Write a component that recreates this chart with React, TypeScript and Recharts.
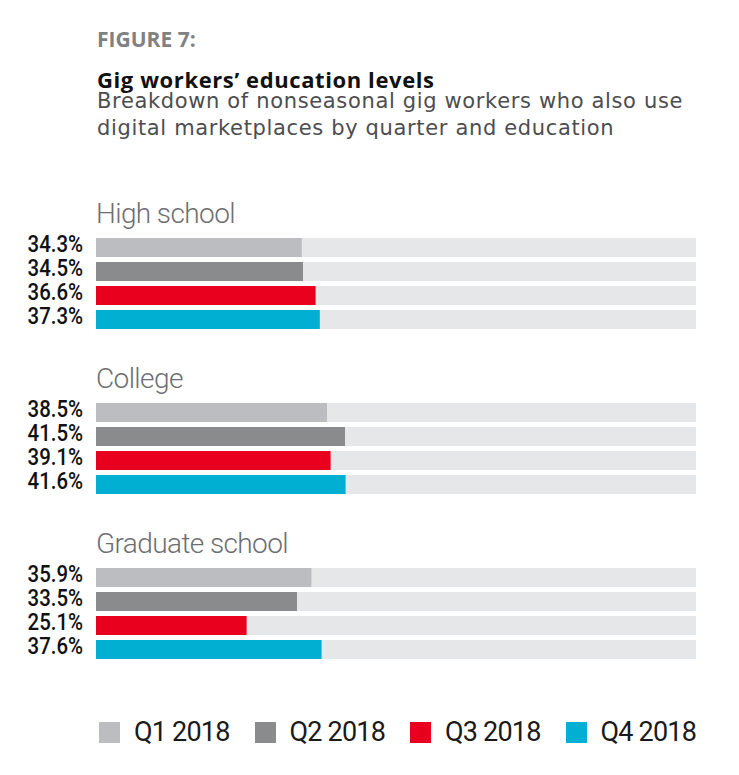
import { Bar, BarChart, Cell, LabelList, XAxis, YAxis } from 'recharts';

const educationLevels = ['High school', 'College', 'Graduate school'];
const quarters = ['Q1 2018', 'Q2 2018', 'Q3 2018', 'Q4 2018'];
const q1Values = [34.3, 38.5, 35.9];
const q2Values = [34.5, 41.5, 33.5];
const q3Values = [36.6, 39.1, 25.1];
const q4Values = [37.3, 41.6, 37.6];

const valuesByQuarter = [q1Values, q2Values, q3Values, q4Values];
const quarterColors = ['#bcbdc0', '#8a8b8d', '#e8001e', '#00afd1'];

const GROUP_TOP = 234.5;
const GROUP_STEP = 165;
const PAD = 8; // room above/below the rows so the labels are not clipped

// value label drawn to the left of the track, right-aligned and squeezed (condensed look)
function PercentLabel(props: any) {
  const { x, y, height, value } = props;
  const lx = Number(x) - 13;
  const ly = Number(y) + Number(height) / 2 + 4.5;
  return (
    <text
      transform={`translate(${lx},${ly}) scale(0.85,1)`}
      textAnchor="end"
      fill="#111111"
      fontFamily="Roboto"
      fontWeight={500}
      fontSize={24}
    >
      {`${Number(value).toFixed(1)}%`}
    </text>
  );
}

function EducationGroup({ index }: { index: number }) {
  const data = quarters.map((quarter, i) => ({
    quarter,
    value: valuesByQuarter[i][index],
  }));
  const top = GROUP_TOP + GROUP_STEP * index;

  return (
    <>
      <div
        style={{
          position: 'absolute',
          left: 96,
          top: top - 35,
          fontFamily: 'Roboto',
          fontWeight: 300,
          fontSize: 28,
          lineHeight: 1,
          letterSpacing: -0.6,
          color: '#6d6e71',
          whiteSpace: 'nowrap',
        }}
      >
        {educationLevels[index]}
      </div>
      <div style={{ position: 'absolute', left: 0, top: top - PAD }}>
        <BarChart
          width={739}
          height={96 + PAD * 2}
          data={data}
          layout="vertical"
          margin={{ top: PAD, right: 43, bottom: PAD, left: 96 }}
        >
          <XAxis type="number" domain={[0, 100]} hide />
          <YAxis type="category" dataKey="quarter" hide />
          <Bar
            dataKey="value"
            barSize={19}
            background={{ fill: '#e6e7e8' }}
            isAnimationActive={false}
          >
            {data.map((entry, i) => (
              <Cell key={entry.quarter} fill={quarterColors[i]} />
            ))}
            <LabelList dataKey="value" content={PercentLabel} />
          </Bar>
        </BarChart>
      </div>
    </>
  );
}

export default function App() {
  return (
    <div
      style={{
        position: 'absolute',
        left: 0,
        top: 0,
        width: 739,
        height: 775,
        background: '#ffffff',
        overflow: 'hidden',
      }}
    >
      <div
        style={{
          position: 'absolute',
          left: 97,
          top: 28.7,
          fontFamily: '"Open Sans"',
          fontWeight: 700,
          fontSize: 21,
          lineHeight: 1,
          color: '#808184',
        }}
      >
        FIGURE 7:
      </div>
      <div
        style={{
          position: 'absolute',
          left: 97,
          top: 68.2,
          fontFamily: '"Open Sans"',
          fontWeight: 700,
          fontSize: 22,
          lineHeight: 1,
          letterSpacing: 0.6,
          color: '#111111',
          whiteSpace: 'nowrap',
        }}
      >
        Gig workers’ education levels
      </div>
      <div
        style={{
          position: 'absolute',
          left: 97,
          top: 88,
          width: 640,
          fontFamily: '"DejaVu Sans"',
          fontWeight: 400,
          fontSize: 21,
          lineHeight: '27px',
          letterSpacing: 0.65,
          color: '#4d4d4f',
          whiteSpace: 'nowrap',
        }}
      >
        Breakdown of nonseasonal gig workers who also use
        <br />
        digital marketplaces by quarter and education
      </div>

      {educationLevels.map((level, i) => (
        <EducationGroup key={level} index={i} />
      ))}

      <div style={{ position: 'absolute', left: 99, top: 722, display: 'flex' }}>
        {quarters.map((quarter, i) => (
          <div key={quarter} style={{ display: 'flex', width: 155.5, height: 21 }}>
            <div style={{ width: 21, height: 21, background: quarterColors[i] }} />
            <div
              style={{
                marginLeft: 14,
                fontFamily: 'Roboto',
                fontSize: 27,
                lineHeight: '21px',
                letterSpacing: -0.8,
                color: '#1a1a1a',
                whiteSpace: 'nowrap',
              }}
            >
              {quarter}
            </div>
          </div>
        ))}
      </div>
    </div>
  );
}
